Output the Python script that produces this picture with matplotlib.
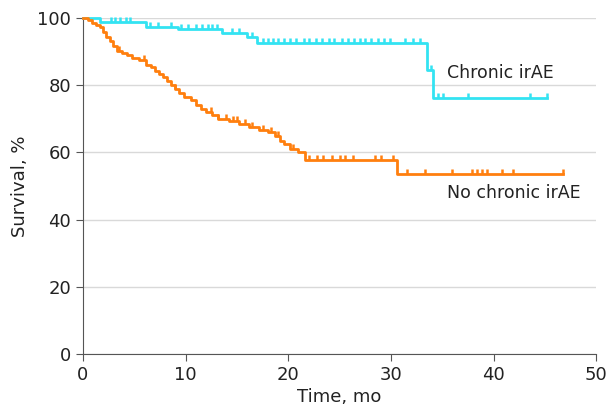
import numpy as np
import matplotlib.pyplot as plt
from matplotlib.path import Path

plt.rcParams['font.family'] = ['DejaVu Sans']

# Chronic irAE (step times / survival %)
chronic_t = [0, 1.7, 6.2, 9.3, 13.6, 16.0, 17.0, 33.5, 34.1, 45.2]
chronic_s = [100, 98.8, 97.3, 96.7, 95.5, 94.3, 92.6, 84.5, 76.3, 76.3]
chronic_cens = [2.7, 3.1, 3.6, 4.2, 4.6, 6.5, 7.3, 8.6, 9.6, 10.2, 11.0, 11.6, 12.2,
                12.6, 13.1, 14.5, 15.2, 16.5, 17.5, 18.0, 18.5, 19.0, 19.6, 20.2,
                20.8, 21.5, 22.0, 22.7, 23.3, 24.0, 24.5, 25.2, 25.8, 26.4, 27.0,
                27.5, 28.1, 28.7, 29.3, 29.9, 31.4, 32.2, 32.8, 33.9, 34.6, 35.1,
                37.5, 43.6, 45.2]

# No chronic irAE
other_t = [0, 0.5, 0.9, 1.3, 1.7, 2.0, 2.3, 2.6, 2.9, 3.3, 3.8, 4.3, 4.8, 5.5, 6.2,
           6.6, 7.0, 7.4, 7.8, 8.2, 8.6, 9.0, 9.4, 9.9, 10.5, 11.0, 11.5, 12.0,
           12.6, 13.2, 14.2, 15.2, 16.2, 17.2, 18.0, 18.7, 19.2, 19.6, 20.2, 21.0,
           21.6, 30.6, 46.8]
other_s = [100, 99.3, 98.6, 97.9, 97.2, 95.8, 94.4, 93.0, 91.6, 90.2, 89.5, 88.8,
           88.1, 87.4, 86.0, 85.3, 84.3, 83.3, 82.3, 81.2, 80.0, 78.8, 77.5, 76.5,
           75.5, 74.1, 73.0, 72.0, 71.0, 70.0, 69.2, 68.5, 67.6, 66.6, 65.9, 64.9,
           63.5, 62.5, 61.1, 60.1, 57.8, 53.4, 53.4]
other_cens = [3.5, 6.0, 9.0, 12.5, 13.2, 13.9, 14.6, 15.0, 15.8, 16.5, 17.5, 18.3,
              19.0, 20.5, 22.0, 22.8, 23.4, 24.3, 25.0, 25.5, 26.3, 28.5, 29.0,
              30.2, 31.6, 33.3, 36.0, 37.9, 38.4, 38.9, 39.4, 40.8, 41.9, 46.8]

cyan = '#33E3F2'
orange = '#FF7F0E'
tick_up = Path([(0, 0), (0, 1)])


def step_value(t, s, x):
    idx = np.searchsorted(t, x, side='right') - 1
    return np.array(s)[idx]


fig = plt.figure(figsize=(6.09, 4.15), dpi=100)
ax = fig.add_axes([0.136, 0.147, 0.843, 0.81])

for t, s, cens, c in [(chronic_t, chronic_s, chronic_cens, cyan),
                      (other_t, other_s, other_cens, orange)]:
    ax.plot(t, s, drawstyle='steps-post', color=c, lw=2, clip_on=False, zorder=3)
    ax.plot(cens, step_value(t, s, cens), ls='none', marker=tick_up,
            markersize=7, markeredgewidth=1.8, color=c, clip_on=False, zorder=3)

ax.text(35.5, 83.6, 'Chronic irAE', fontsize=12.5, va='center', ha='left', color='#222222')
ax.text(35.5, 47.9, 'No chronic irAE', fontsize=12.5, va='center', ha='left', color='#222222')

ax.set_xlim(0, 50)
ax.set_ylim(0, 100)
ax.set_xticks(range(0, 51, 10))
ax.set_yticks(range(0, 101, 20))
ax.yaxis.grid(True, color='#d9d9d9', lw=1)
ax.set_axisbelow(True)
for sp in ['top', 'right']:
    ax.spines[sp].set_visible(False)
for sp in ['left', 'bottom']:
    ax.spines[sp].set_color('#555555')
ax.tick_params(labelsize=13, color='#555555', length=5, labelcolor='#222222')
ax.set_xlabel('Time, mo', fontsize=13, color='#222222', labelpad=3)
ax.set_ylabel('Survival, %', fontsize=13, color='#222222', labelpad=6)

fig.savefig('out.png', dpi=100)
